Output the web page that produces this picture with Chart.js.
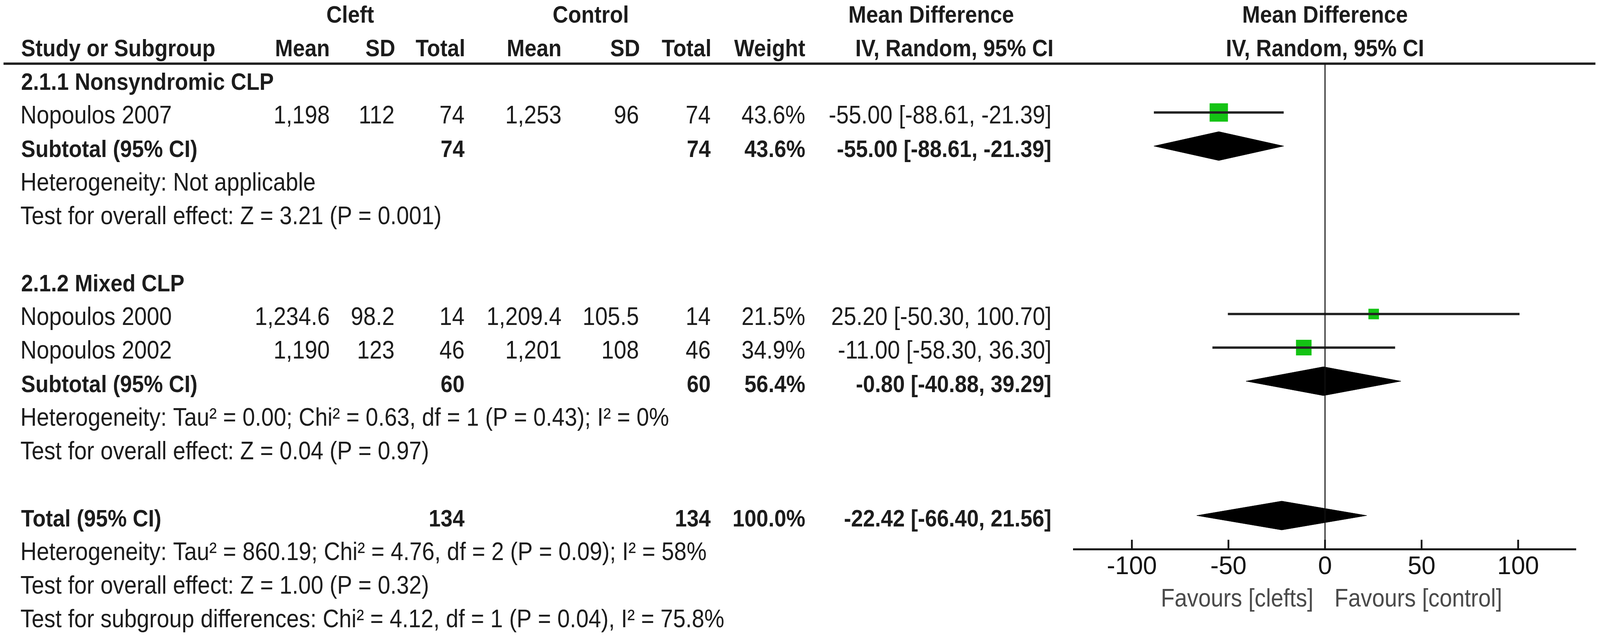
<!DOCTYPE html>
<html lang="en">
    <head>
        <meta charset="UTF-8" />
        <title>Forest plot - Cleft vs Control</title>
        <script src="https://cdn.jsdelivr.net/npm/chart.js@4.4.1/dist/chart.umd.min.js"></script>
        <style>
            html, body { margin: 0; padding: 0; background: #fff; overflow: hidden; }
            #wrap { width: 100vw; height: 100vh; position: relative; }
        </style>
    </head>
    <body>
        <div id="wrap"><canvas id="canvas"></canvas></div>
        <script>
            // studies
            var studyNames = ["Nopoulos 2007", "Nopoulos 2000", "Nopoulos 2002"];
            var cleftMean = [1198, 1234.6, 1190];
            var cleftSD = [112, 98.2, 123];
            var cleftN = [74, 14, 46];
            var ctrlMean = [1253, 1209.4, 1201];
            var ctrlSD = [96, 105.5, 108];
            var ctrlN = [74, 14, 46];
            var weights = [43.6, 21.5, 34.9];
            var md = [-55.0, 25.2, -11.0];
            var mdLo = [-88.61, -50.3, -58.3];
            var mdHi = [-21.39, 100.7, 36.3];
            var studyRows = [1, 7, 8];

            // subtotals and total
            var pooledNames = ["Subtotal (95% CI)", "Subtotal (95% CI)", "Total (95% CI)"];
            var pooledCleftN = [74, 60, 134];
            var pooledCtrlN = [74, 60, 134];
            var pooledWeight = [43.6, 56.4, 100.0];
            var pooledMd = [-55.0, -0.8, -22.42];
            var pooledLo = [-88.61, -40.88, -66.4];
            var pooledHi = [-21.39, 39.29, 21.56];
            var pooledRows = [2, 9, 13];

            var groupTitles = ["2.1.1 Nonsyndromic CLP", "2.1.2 Mixed CLP"];
            var groupRows = [0, 6];

            var noteTexts = [
                "Heterogeneity: Not applicable",
                "Test for overall effect: Z = 3.21 (P = 0.001)",
                "Heterogeneity: Tau\u00b2 = 0.00; Chi\u00b2 = 0.63, df = 1 (P = 0.43); I\u00b2 = 0%",
                "Test for overall effect: Z = 0.04 (P = 0.97)",
                "Heterogeneity: Tau\u00b2 = 860.19; Chi\u00b2 = 4.76, df = 2 (P = 0.09); I\u00b2 = 58%",
                "Test for overall effect: Z = 1.00 (P = 0.32)",
                "Test for subgroup differences: Chi\u00b2 = 4.12, df = 1 (P = 0.04), I\u00b2 = 75.8%"
            ];
            var noteRows = [3, 4, 10, 11, 14, 15, 16];

            var xTicks = [-100, -50, 0, 50, 100];
            var favourLeft = "Favours [clefts]";
            var favourRight = "Favours [control]";

            // layout, in units of the 4550 x 1631 reference, scaled to the viewport
            var SX = window.innerWidth / 4550;
            var SY = window.innerHeight / 1631;
            var FONT = '"Liberation Sans", Arial, sans-serif';
            var colRight = { mean: 938, sd: 1122, n: 1321, cmean: 1597, csd: 1817, cn: 2021, w: 2290, ci: 2990 };
            var textLeft = 58;
            var baseOffset = 28;
            var diamondHalf = 0.43;
            var green = "#14c314";
            var ink = "#1c1c1c";

            var fmtMean = new Intl.NumberFormat("en-US", { maximumFractionDigits: 1 });
            function ci(e, lo, hi) {
                return e.toFixed(2) + " [" + lo.toFixed(2) + ", " + hi.toFixed(2) + "]";
            }

            // text is drawn at reference size and stretched to the viewport
            function put(ctx, text, x, y, align, bold, color) {
                ctx.save();
                ctx.translate(x * SX, y * SY);
                ctx.scale(SX, SY);
                ctx.font = (bold ? "bold 61px " : "64px ") + FONT;
                ctx.textAlign = align;
                ctx.textBaseline = "alphabetic";
                ctx.fillStyle = color || ink;
                ctx.fillText(text, 0, 0);
                ctx.restore();
            }

            var datasets = [];
            for (var i = 0; i < studyNames.length; i++) {
                datasets.push({
                    data: [{ x: mdLo[i], y: studyRows[i] }, { x: mdHi[i], y: studyRows[i] }],
                    showLine: true,
                    borderColor: "#242424",
                    borderWidth: 6 * SY,
                    pointRadius: 0
                });
            }
            datasets.push({
                data: md.map(function (v, i) { return { x: v, y: studyRows[i] }; }),
                pointStyle: "rect",
                backgroundColor: green,
                borderColor: green,
                borderWidth: 0,
                pointRadius: function (c) {
                    var side = 10.17 * Math.sqrt(weights[c.dataIndex]) - 20.2;
                    return side * SY / Math.SQRT2;
                }
            });
            for (var j = 0; j < pooledMd.length; j++) {
                var r = pooledRows[j];
                datasets.push({
                    data: [
                        { x: pooledLo[j], y: r },
                        { x: pooledMd[j], y: r - diamondHalf },
                        { x: pooledHi[j], y: r },
                        { x: pooledMd[j], y: r + diamondHalf },
                        { x: pooledLo[j], y: r }
                    ],
                    showLine: true,
                    fill: "shape",
                    backgroundColor: "#000",
                    borderColor: "#000",
                    borderWidth: 1,
                    pointRadius: 0
                });
            }

            var tablePlugin = {
                id: "table",
                afterDraw: function (chart) {
                    var ctx = chart.ctx;
                    var xs = chart.scales.x, ys = chart.scales.y;
                    var area = chart.chartArea;
                    // rows and plot positions back in reference units
                    var row = function (k) { return ys.getPixelForValue(k) / SY + baseOffset; };
                    var plotMid = (area.left + area.right) / 2 / SX;
                    var top = area.top, bottom = area.bottom;
                    ctx.save();

                    // header rule
                    ctx.fillStyle = "#222";
                    ctx.fillRect(10 * SX, top - 3 * SY, 4527 * SX, 6 * SY);

                    // zero line
                    var x0 = xs.getPixelForValue(0);
                    ctx.fillStyle = "#111";
                    ctx.fillRect(x0 - 1.5 * SX, top, 3 * SX, bottom - top);

                    // axis ticks (pointing up)
                    xTicks.forEach(function (v) {
                        var px = xs.getPixelForValue(v);
                        ctx.fillRect(px - 2.5 * SX, bottom - 24 * SY, 5 * SX, 24 * SY);
                    });
                    ctx.restore();

                    // headers
                    put(ctx, "Cleft", 996, row(-2), "center", true);
                    put(ctx, "Control", 1680, row(-2), "center", true);
                    put(ctx, "Mean Difference", 2648, row(-2), "center", true);
                    put(ctx, "Mean Difference", plotMid, row(-2), "center", true);
                    put(ctx, "Study or Subgroup", textLeft + 2, row(-1), "left", true);
                    put(ctx, "Mean", colRight.mean, row(-1), "right", true);
                    put(ctx, "SD", colRight.sd + 2, row(-1), "right", true);
                    put(ctx, "Total", colRight.n + 2, row(-1), "right", true);
                    put(ctx, "Mean", colRight.cmean, row(-1), "right", true);
                    put(ctx, "SD", colRight.csd + 3, row(-1), "right", true);
                    put(ctx, "Total", colRight.cn + 2, row(-1), "right", true);
                    put(ctx, "Weight", colRight.w, row(-1), "right", true);
                    put(ctx, "IV, Random, 95% CI", colRight.ci + 6, row(-1), "right", true);
                    put(ctx, "IV, Random, 95% CI", plotMid, row(-1), "center", true);

                    groupTitles.forEach(function (t, g) {
                        put(ctx, t, textLeft + 2, row(groupRows[g]), "left", true);
                    });

                    studyNames.forEach(function (name, s) {
                        var y = row(studyRows[s]);
                        put(ctx, name, textLeft, y, "left", false);
                        put(ctx, fmtMean.format(cleftMean[s]), colRight.mean, y, "right", false);
                        put(ctx, String(cleftSD[s]), colRight.sd, y, "right", false);
                        put(ctx, String(cleftN[s]), colRight.n, y, "right", false);
                        put(ctx, fmtMean.format(ctrlMean[s]), colRight.cmean, y, "right", false);
                        put(ctx, String(ctrlSD[s]), colRight.csd, y, "right", false);
                        put(ctx, String(ctrlN[s]), colRight.cn, y, "right", false);
                        put(ctx, weights[s].toFixed(1) + "%", colRight.w, y, "right", false);
                        put(ctx, ci(md[s], mdLo[s], mdHi[s]), colRight.ci, y, "right", false);
                    });

                    pooledNames.forEach(function (name, p) {
                        var y = row(pooledRows[p]);
                        put(ctx, name, textLeft + 2, y, "left", true);
                        put(ctx, String(pooledCleftN[p]), colRight.n, y, "right", true);
                        put(ctx, String(pooledCtrlN[p]), colRight.cn, y, "right", true);
                        put(ctx, pooledWeight[p].toFixed(1) + "%", colRight.w, y, "right", true);
                        put(ctx, ci(pooledMd[p], pooledLo[p], pooledHi[p]), colRight.ci, y, "right", true);
                    });

                    noteTexts.forEach(function (t, n) {
                        put(ctx, t, textLeft, row(noteRows[n]), "left", false);
                    });

                    // favours labels
                    var x0r = x0 / SX, yb = bottom / SY + 147;
                    put(ctx, favourLeft, x0r - 33, yb, "right", false, "#4a4a4a");
                    put(ctx, favourRight, x0r + 27, yb, "left", false, "#4a4a4a");
                }
            };

            var config = {
                type: "scatter",
                data: { datasets: datasets },
                options: {
                    responsive: true,
                    maintainAspectRatio: false,
                    animation: false,
                    events: [],
                    layout: { padding: { left: 3054 * SX, right: 68 * SX, top: 163 * SY, bottom: 0 } },
                    plugins: { legend: { display: false }, tooltip: { enabled: false } },
                    scales: {
                        x: {
                            type: "linear",
                            min: -130,
                            max: 130,
                            afterBuildTicks: function (scale) {
                                scale.ticks = xTicks.map(function (v) { return { value: v }; });
                            },
                            afterFit: function (scale) { scale.height = 225 * SY; },
                            grid: { display: false, drawTicks: false },
                            border: { display: true, color: "#111", width: 5 * SY },
                            ticks: {
                                color: "#111",
                                padding: 8 * SY,
                                font: { family: FONT, size: 64 * SY },
                                maxRotation: 0,
                                autoSkip: false
                            }
                        },
                        y: {
                            type: "linear",
                            display: false,
                            reverse: true,
                            min: -0.4535,
                            max: 14.0
                        }
                    }
                },
                plugins: [tablePlugin]
            };

            var chart = new Chart(document.getElementById("canvas").getContext("2d"), config);
        </script>
    </body>
</html>
